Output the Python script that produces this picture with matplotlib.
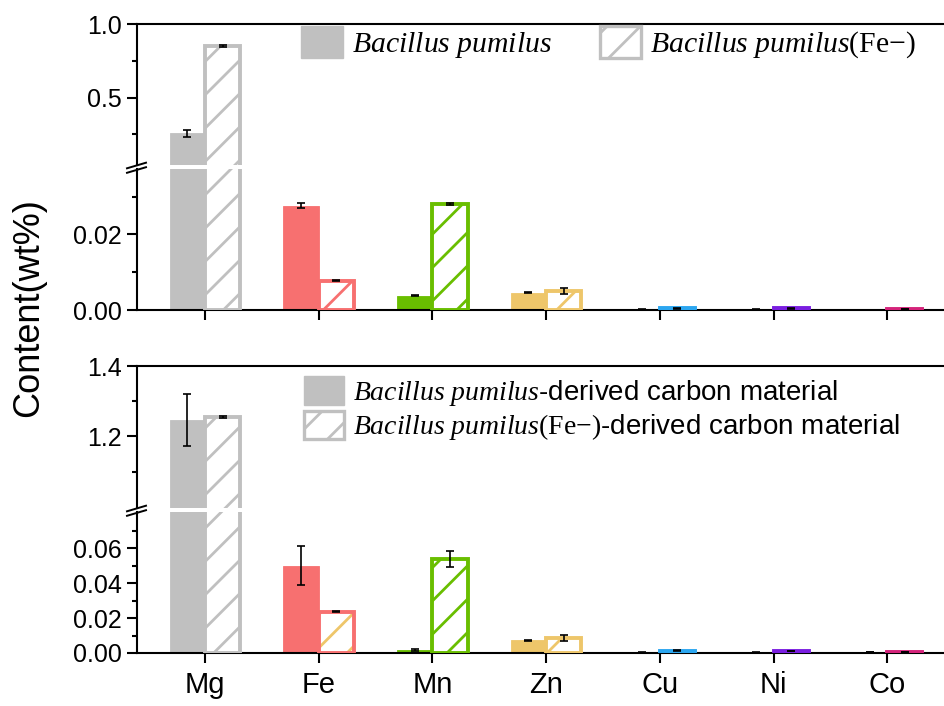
import numpy as np
import matplotlib
matplotlib.use("Agg")
import matplotlib.pyplot as plt
from matplotlib.patches import Patch
from matplotlib.lines import Line2D
from matplotlib.ticker import FixedLocator, FormatStrFormatter

plt.rcParams['font.family'] = ['Liberation Sans', 'DejaVu Sans']
plt.rcParams['mathtext.fontset'] = 'custom'
plt.rcParams['mathtext.it'] = 'Liberation Serif:italic'
plt.rcParams['mathtext.rm'] = 'Liberation Serif'
plt.rcParams['hatch.linewidth'] = 1.0

# data (wt%)
elements = ['Mg', 'Fe', 'Mn', 'Zn', 'Cu', 'Ni', 'Co']
colors = ['#C0C0C0', '#F77070', '#69BE00', '#EEC66A', '#2BA6F0', '#7A1EE0', '#D4237A']

bp = [0.257, 0.0276, 0.0038, 0.0046, 0.0002, 0.0001, 0.00005]
bp_err = [0.026, 0.0007, 0.0002, 0.0002, 0.0001, 0.0001, 0.0]
bp_fe = [0.851, 0.0078, 0.0281, 0.0051, 0.0004, 0.0004, 0.0002]
bp_fe_err = [0.005, 0.0001, 0.0002, 0.0008, 0.0001, 0.0001, 0.0]

carbon = [1.247, 0.0499, 0.0017, 0.0073, 0.0004, 0.0003, 0.0004]
carbon_err = [0.074, 0.011, 0.0005, 0.0003, 0.0002, 0.0001, 0.0]
carbon_fe = [1.255, 0.0236, 0.0538, 0.0088, 0.0014, 0.0012, 0.0004]
carbon_fe_err = [0.002, 0.0003, 0.0045, 0.0017, 0.0002, 0.0002, 0.0]

# hatch colours (bottom Fe bar has yellow hatching in the original)
hatch_top = colors
hatch_bottom = ['#C0C0C0', '#EEC66A', '#69BE00', '#EEC66A', '#2BA6F0', '#7A1EE0', '#D4237A']
# the tiny solid Cu / Ni bars look light grey
solid_colors = ['#C0C0C0', '#F77070', '#69BE00', '#EEC66A', '#CFCFCF', '#D8D8D8', '#D4237A']

x = np.arange(len(elements))
w = 0.31
W, H = 945, 706

fig = plt.figure(figsize=(4.725, 3.53), dpi=200)

def add_ax(top_px, bot_px):
    return fig.add_axes([137 / W, 1 - bot_px / H, 808 / W, (bot_px - top_px) / H])

ax_tu = add_ax(24, 165)
ax_tl = add_ax(169, 310)
ax_bu = add_ax(366, 508)
ax_bl = add_ax(512, 653)


def draw(ax, solid, solid_err, hatched, hatched_err, hcols):
    ax.bar(x - w / 2, solid, w, color=solid_colors, edgecolor=solid_colors, lw=0.3, zorder=2)
    ax.bar(x + w / 2, hatched, w, color='white', edgecolor=hcols, lw=0, hatch='//', zorder=2)
    ax.bar(x + w / 2, hatched, w, fill=False, edgecolor=colors, lw=1.4, zorder=3)
    ax.errorbar(x - w / 2, solid, yerr=solid_err, fmt='none', ecolor='black',
                elinewidth=0.6, capsize=1.5, capthick=0.6, zorder=4)
    ax.errorbar(x + w / 2, hatched, yerr=hatched_err, fmt='none', ecolor='black',
                elinewidth=0.6, capsize=1.5, capthick=0.6, zorder=4)
    ax.set_xlim(-0.598, 6.508)
    ax.spines['right'].set_visible(False)
    for s in ax.spines.values():
        s.set_linewidth(0.75)
    ax.tick_params(axis='y', which='major', direction='out', length=3.6, width=0.75, labelsize=9, pad=2)
    ax.tick_params(axis='y', which='minor', direction='out', length=1.8, width=0.75)
    ax.tick_params(axis='x', direction='out', length=3.6, width=0.75, labelsize=10.5, pad=3)
    ax.set_xticks(x)


for up, lo, s, se, h, he, hc in [(ax_tu, ax_tl, bp, bp_err, bp_fe, bp_fe_err, hatch_top),
                                 (ax_bu, ax_bl, carbon, carbon_err, carbon_fe, carbon_fe_err, hatch_bottom)]:
    draw(up, s, se, h, he, hc)
    draw(lo, s, se, h, he, hc)
    up.spines['bottom'].set_visible(False)
    up.tick_params(axis='x', bottom=False, labelbottom=False)
    lo.spines['top'].set_visible(False)

ax_tl.tick_params(axis='x', labelbottom=False)
ax_bl.set_xticklabels(elements)

ax_tu.set_ylim(0.042, 1.0)
ax_tu.yaxis.set_major_locator(FixedLocator([0.5, 1.0]))
ax_tu.yaxis.set_minor_locator(FixedLocator([0.25, 0.75]))
ax_tu.yaxis.set_major_formatter(FormatStrFormatter('%.1f'))

ax_tl.set_ylim(0, 0.0373)
ax_tl.yaxis.set_major_locator(FixedLocator([0.0, 0.02]))
ax_tl.yaxis.set_minor_locator(FixedLocator([0.01, 0.03]))
ax_tl.yaxis.set_major_formatter(FormatStrFormatter('%.2f'))

ax_bu.set_ylim(0.997, 1.4)
ax_bu.yaxis.set_major_locator(FixedLocator([1.2, 1.4]))
ax_bu.yaxis.set_minor_locator(FixedLocator([1.1, 1.3]))
ax_bu.yaxis.set_major_formatter(FormatStrFormatter('%.1f'))

ax_bl.set_ylim(0, 0.0806)
ax_bl.yaxis.set_major_locator(FixedLocator([0.0, 0.02, 0.04, 0.06]))
ax_bl.yaxis.set_minor_locator(FixedLocator([0.01, 0.03, 0.05, 0.07]))
ax_bl.yaxis.set_major_formatter(FormatStrFormatter('%.2f'))

# break marks on the left spine
for yb in [165.5, 170, 508.5, 513]:
    fig.add_artist(Line2D([127 / W, 146 / W], [1 - (yb + 2.8) / H, 1 - (yb - 2.8) / H],
                          color='black', lw=0.7, transform=fig.transFigure))

fig.text(29 / W, 1 - 308 / H, 'Content(wt%)', rotation=90, ha='center', va='center', fontsize=13)

# legends
grey = colors[0]
h_solid = Patch(facecolor=grey, edgecolor=grey, lw=0.5)
h_hatch = Patch(facecolor='white', edgecolor=grey, lw=1.2, hatch='//')

ax_tu.legend([h_solid, h_hatch],
             [r'$\mathit{Bacillus\ pumilus}$', r'$\mathit{Bacillus\ pumilus}\mathrm{(Fe{-})}$'],
             ncol=2, frameon=False, fontsize=10.7, loc='upper left',
             bbox_to_anchor=(297 / W, 1 - 22 / H), bbox_transform=fig.transFigure,
             borderpad=0.15, handlelength=1.4, handleheight=1.25, handletextpad=0.3,
             columnspacing=1.6, borderaxespad=0)

ax_bu.legend([h_solid, h_hatch],
             [r'$\mathit{Bacillus\ pumilus}$-derived carbon material',
              r'$\mathit{Bacillus\ pumilus}\mathrm{(Fe{-})}$-derived carbon material'],
             frameon=False, fontsize=10, loc='upper left',
             bbox_to_anchor=(300 / W, 1 - 372 / H), bbox_transform=fig.transFigure,
             borderpad=0.15, handlelength=1.45, handleheight=1.2, handletextpad=0.3,
             labelspacing=0.1, borderaxespad=0)

fig.savefig('out.png', dpi=200)
